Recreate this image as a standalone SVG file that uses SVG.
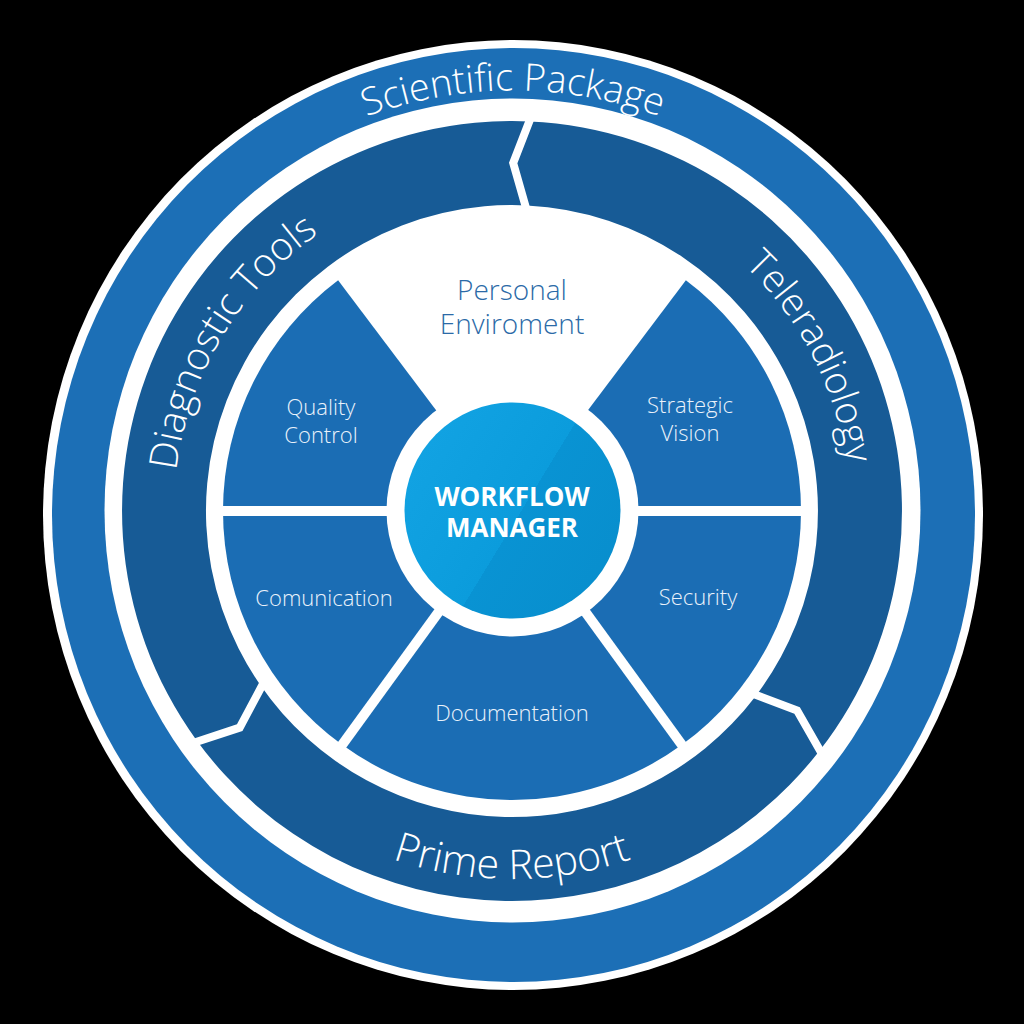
<svg xmlns="http://www.w3.org/2000/svg" width="1024" height="1024" viewBox="0 0 1024 1024">
<style>
.lbl{font-family:"Open Sans","Liberation Sans",sans-serif;font-weight:300;fill:#ffffff}
.ring{font-size:38px}
.in{font-size:22px;fill:#eaf2fb;text-anchor:middle}
.pe{font-size:28px;text-anchor:middle}
.wm{font-family:"Open Sans","Liberation Sans",sans-serif;font-weight:700;font-size:26px;fill:#ffffff;text-anchor:middle}
.seg{fill:#175b96}
.sector{fill:#1b6db4}
.cut{fill:none;stroke:#ffffff;stroke-width:8;stroke-linejoin:miter}
.div{stroke:#ffffff;stroke-width:10}
</style>
<defs>
<path id="arcTop" d="M 189.7 240.7 A 423 423 0 0 1 836.3 240.7"/>
<path id="arcLeft" d="M 216.4 674.9 A 338 338 0 0 1 517.9 173.0"/>
<path id="arcRight" d="M 527.9 173.4 A 338 338 0 0 1 796.4 693.6"/>
<path id="arcBottom" d="M 193.3 695 A 368 368 0 0 0 830.7 695"/>
<linearGradient id="centerGrad" gradientUnits="userSpaceOnUse" x1="419" y1="458" x2="615" y2="578">
<stop offset="0" stop-color="#11a2e2"/>
<stop offset="0.5" stop-color="#0b9cdc"/>
<stop offset="0.5" stop-color="#0993d3"/>
<stop offset="1" stop-color="#088ecd"/>
</linearGradient>
</defs>
<rect width="1024" height="1024" fill="#000000"/>

<g id="outer-ring">
<ellipse cx="513" cy="515" rx="470" ry="475" fill="#ffffff"/>
<ellipse cx="513.5" cy="515" rx="461.5" ry="467" fill="#1c6fb6"/>
<ellipse cx="512.5" cy="510.5" rx="408" ry="412" fill="#ffffff"/>
</g>
<g id="scientific-package">
<text class="lbl ring" text-anchor="middle"><textPath href="#arcTop" startOffset="50%">Scientific Package</textPath></text>
</g>

<g id="diagnostic-tools">
<path class="seg" d="M 196.5 740.2 A 390 390 0 0 1 529.7 121.4 L 513.2 163.0 L 527.0 205.4 A 306 306 0 0 0 260.1 684.8 L 239.7 727.6 Z"/>
<text class="lbl ring" font-size="39" style="font-size:39px" text-anchor="middle"><textPath href="#arcLeft" startOffset="50%">Diagnostic Tools</textPath></text>
</g>
<g id="teleradiology">
<path class="seg" d="M 529.7 121.4 A 390 390 0 0 1 819.3 751.1 L 797.1 710.6 L 755.4 696.4 A 306 306 0 0 0 527.0 205.4 L 513.2 163.0 Z"/>
<text class="lbl ring" text-anchor="middle"><textPath href="#arcRight" startOffset="50%">Teleradiology</textPath></text>
</g>
<g id="prime-report">
<path class="seg" d="M 819.3 751.1 A 390 390 0 0 1 196.5 740.2 L 239.7 727.6 L 260.1 684.8 A 306 306 0 0 0 755.4 696.4 L 797.1 710.6 Z"/>
<text class="lbl" font-size="41" text-anchor="middle"><textPath href="#arcBottom" startOffset="50%">Prime Report</textPath></text>
</g>
<g id="segment-cuts">
<polyline class="cut" points="531,117 513.2,163.0 526.6,210"/>
<polyline class="cut" points="822,754 797.1,710.6 751,693"/>
<polyline class="cut" points="193,743 239.7,727.6 264,682"/>
</g>

<g id="personal-enviroment">
<path d="M 512 511 L 338.1 280.2 A 289 289 0 0 1 685.9 280.2 Z" fill="#ffffff"/>
<text class="lbl pe" x="512" y="300" style="fill:#2b6aa7">Personal</text>
<text class="lbl pe" x="512" y="334" style="fill:#2b6aa7">Enviroment</text>
</g>
<g id="strategic-vision">
<path class="sector" d="M 512 511 L 685.9 280.2 A 289 289 0 0 1 801 511 Z"/>
<text class="lbl in" x="690" y="413">Strategic</text>
<text class="lbl in" x="690" y="441">Vision</text>
</g>
<g id="security">
<path class="sector" d="M 512 511 L 801 511 A 289 289 0 0 1 681.9 744.8 Z"/>
<text class="lbl in" x="698" y="605">Security</text>
</g>
<g id="documentation">
<path class="sector" d="M 512 511 L 681.9 744.8 A 289 289 0 0 1 342.1 744.8 Z"/>
<text class="lbl in" x="512" y="721">Documentation</text>
</g>
<g id="comunication">
<path class="sector" d="M 512 511 L 342.1 744.8 A 289 289 0 0 1 223 511 Z"/>
<text class="lbl in" x="324" y="606">Comunication</text>
</g>
<g id="quality-control">
<path class="sector" d="M 512 511 L 223 511 A 289 289 0 0 1 338.1 280.2 Z"/>
<text class="lbl in" x="321" y="415">Quality</text>
<text class="lbl in" x="321" y="443">Control</text>
</g>
<g id="dividers">
<line class="div" x1="512" y1="511" x2="218" y2="511"/>
<line class="div" x1="512" y1="511" x2="806" y2="511"/>
<line class="div" x1="512" y1="511" x2="684.8" y2="748.9"/>
<line class="div" x1="512" y1="511" x2="339.2" y2="748.9"/>
</g>

<g id="workflow-manager">
<circle cx="512.5" cy="510.5" r="126" fill="#ffffff"/>
<circle cx="512.5" cy="510.5" r="108" fill="url(#centerGrad)"/>
<text class="wm" x="512" y="506">WORKFLOW</text>
<text class="wm" x="512" y="537">MANAGER</text>
</g>
</svg>
